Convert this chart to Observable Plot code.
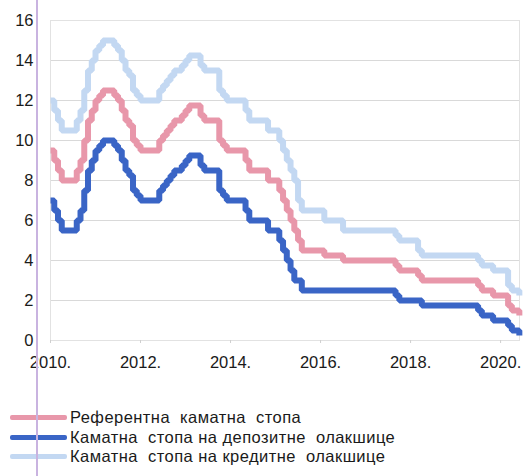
<!DOCTYPE html>
<html>
<head>
<meta charset="utf-8">
<script src="https://cdn.jsdelivr.net/npm/d3@7"></script>
<script src="https://cdn.jsdelivr.net/npm/@observablehq/plot@0.6"></script>
<style>
  html, body { margin: 0; padding: 0; background: #fff; }
  #wrap { position: relative; width: 523px; height: 476px; overflow: hidden; font-family: "Liberation Sans", Arial, sans-serif; }
  #edge { position: absolute; left: 36px; top: 0; width: 1.5px; height: 476px; background: #c9b3e0; }
  #legend { position: absolute; left: 10px; top: 408px; }
  .row { display: flex; align-items: center; height: 19.5px; font-size: 16.5px; letter-spacing: 0.45px; color: #1a1a1a; white-space: pre; }
  .sw { width: 57px; height: 5px; margin-right: 3px; border-radius: 2px; }
</style>
</head>
<body>
<div id="wrap">
  <div id="chart"></div>
  <div id="legend"></div>
  <div id="edge"></div>
</div>
<script>
// Monthly values, January 2010 – June 2020 (in %)
const startYear = 2010;
const refRate = [
  9.5, 9.0, 8.5, 8.0, 8.0, 8.0, 8.0, 8.5, 9.0, 10.0, 11.0, 11.5,          // 2010
  12.0, 12.25, 12.5, 12.5, 12.5, 12.25, 12.0, 11.5, 11.0, 10.75, 10.0, 9.75, // 2011
  9.5, 9.5, 9.5, 9.5, 9.5, 10.0, 10.25, 10.5, 10.75, 11.0, 11.0, 11.25,     // 2012
  11.5, 11.75, 11.75, 11.75, 11.25, 11.0, 11.0, 11.0, 11.0, 10.0, 9.75, 9.5, // 2013
  9.5, 9.5, 9.5, 9.5, 9.0, 8.5, 8.5, 8.5, 8.5, 8.5, 8.0, 8.0,               // 2014
  8.0, 7.5, 7.0, 6.5, 6.0, 5.5, 5.0, 4.5, 4.5, 4.5, 4.5, 4.5,               // 2015
  4.5, 4.25, 4.25, 4.25, 4.25, 4.25, 4.0, 4.0, 4.0, 4.0, 4.0, 4.0,          // 2016
  4.0, 4.0, 4.0, 4.0, 4.0, 4.0, 4.0, 4.0, 3.75, 3.5, 3.5, 3.5,              // 2017
  3.5, 3.5, 3.25, 3.0, 3.0, 3.0, 3.0, 3.0, 3.0, 3.0, 3.0, 3.0,              // 2018
  3.0, 3.0, 3.0, 3.0, 3.0, 3.0, 2.75, 2.5, 2.5, 2.5, 2.25, 2.25,            // 2019
  2.25, 2.25, 1.75, 1.5, 1.5, 1.25                                          // 2020
];
const depositRate = [
  7.0, 6.5, 6.0, 5.5, 5.5, 5.5, 5.5, 6.0, 6.5, 7.5, 8.5, 9.0,
  9.5, 9.75, 10.0, 10.0, 10.0, 9.75, 9.5, 9.0, 8.5, 8.25, 7.5, 7.25,
  7.0, 7.0, 7.0, 7.0, 7.0, 7.5, 7.75, 8.0, 8.25, 8.5, 8.5, 8.75,
  9.0, 9.25, 9.25, 9.25, 8.75, 8.5, 8.5, 8.5, 8.5, 7.5, 7.25, 7.0,
  7.0, 7.0, 7.0, 7.0, 6.5, 6.0, 6.0, 6.0, 6.0, 6.0, 5.5, 5.5,
  5.5, 5.0, 4.5, 4.0, 3.5, 3.0, 3.0, 2.5, 2.5, 2.5, 2.5, 2.5,
  2.5, 2.5, 2.5, 2.5, 2.5, 2.5, 2.5, 2.5, 2.5, 2.5, 2.5, 2.5,
  2.5, 2.5, 2.5, 2.5, 2.5, 2.5, 2.5, 2.5, 2.25, 2.0, 2.0, 2.0,
  2.0, 2.0, 2.0, 1.75, 1.75, 1.75, 1.75, 1.75, 1.75, 1.75, 1.75, 1.75,
  1.75, 1.75, 1.75, 1.75, 1.75, 1.75, 1.5, 1.25, 1.25, 1.25, 1.0, 1.0,
  1.0, 1.0, 0.75, 0.5, 0.5, 0.25
];
const lendingRate = [
  12.0, 11.5, 11.0, 10.5, 10.5, 10.5, 10.5, 11.0, 11.5, 12.5, 13.5, 14.0,
  14.5, 14.75, 15.0, 15.0, 15.0, 14.75, 14.5, 14.0, 13.5, 13.25, 12.5, 12.25,
  12.0, 12.0, 12.0, 12.0, 12.0, 12.5, 12.75, 13.0, 13.25, 13.5, 13.5, 13.75,
  14.0, 14.25, 14.25, 14.25, 13.75, 13.5, 13.5, 13.5, 13.5, 12.5, 12.25, 12.0,
  12.0, 12.0, 12.0, 12.0, 11.5, 11.0, 11.0, 11.0, 11.0, 11.0, 10.5, 10.5,
  10.5, 10.0, 9.5, 9.0, 8.5, 8.0, 7.0, 6.5, 6.5, 6.5, 6.5, 6.5,
  6.5, 6.0, 6.0, 6.0, 6.0, 6.0, 5.5, 5.5, 5.5, 5.5, 5.5, 5.5,
  5.5, 5.5, 5.5, 5.5, 5.5, 5.5, 5.5, 5.5, 5.25, 5.0, 5.0, 5.0,
  5.0, 5.0, 4.5, 4.25, 4.25, 4.25, 4.25, 4.25, 4.25, 4.25, 4.25, 4.25,
  4.25, 4.25, 4.25, 4.25, 4.25, 4.25, 4.0, 3.75, 3.75, 3.75, 3.5, 3.5,
  3.5, 3.5, 2.75, 2.5, 2.5, 2.25
];
const seriesNames = [
  "Референтна  каматна  стопа",
  "Каматна  стопа на депозитне  олакшице",
  "Каматна  стопа на кредитне  олакшице"
];
const seriesColors = ["#e897aa", "#3a65c6", "#c3d8f2"];
const seriesValues = [refRate, depositRate, lendingRate];
const xTicks = [2010, 2012, 2014, 2016, 2018, 2020];
const yTicks = [0, 2, 4, 6, 8, 10, 12, 14, 16];

const rows = (vals) => vals.map((v, i) => ({t: startYear + i / 12, v}));

const lines = seriesValues.map((vals, k) =>
  Plot.line(rows(vals), {
    x: "t", y: "v", curve: "step-after",
    stroke: seriesColors[k], strokeWidth: 6,
    strokeLinejoin: "miter", strokeLinecap: "butt"
  })
);

const chart = Plot.plot({
  width: 523,
  height: 378,
  marginLeft: 50,
  marginRight: 4,
  marginTop: 20,
  marginBottom: 38,
  style: {fontFamily: "'Liberation Sans', Arial, sans-serif", fontSize: "16.5px", color: "#1a1a1a", background: "transparent"},
  x: {domain: [2010, 2020.42]},
  y: {domain: [0, 16]},
  marks: [
    Plot.gridY(yTicks, {stroke: "#d9d9d9", strokeOpacity: 1, strokeWidth: 1}),
    Plot.frame({stroke: "#e2e2e2"}),
    Plot.axisY(yTicks, {tickSize: 0, tickPadding: 17, label: null, fontSize: 16.5}),
    Plot.axisX(xTicks, {tickSize: 3, stroke: "#cfcfcf", tickPadding: 13, label: null, tickFormat: d => d + ".", fontSize: 16.5}),
    ...lines
  ]
});
document.getElementById("chart").appendChild(chart);

const legend = document.getElementById("legend");
seriesNames.forEach((name, k) => {
  const row = document.createElement("div");
  row.className = "row";
  const sw = document.createElement("span");
  sw.className = "sw";
  sw.style.background = seriesColors[k];
  const tx = document.createElement("span");
  tx.textContent = name;
  row.appendChild(sw);
  row.appendChild(tx);
  legend.appendChild(row);
});
</script>
</body>
</html>
